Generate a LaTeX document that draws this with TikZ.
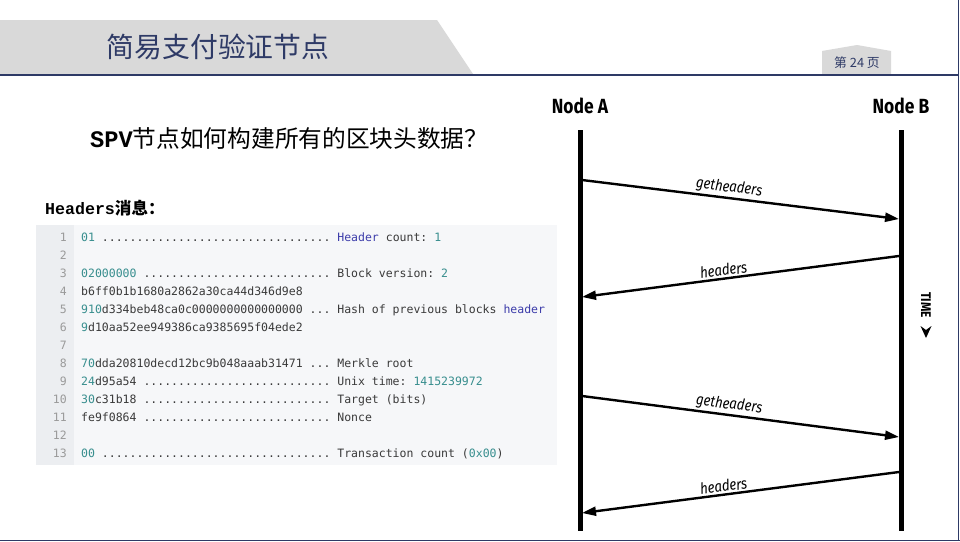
\documentclass[tikz,border=0pt]{standalone}
\usepackage{fontspec}
\usetikzlibrary{arrows.meta}
\setmonofont{DejaVu Sans Mono}
\newfontfamily\cjk{Noto Sans CJK SC}
\newfontfamily\cjkm{Liberation Mono}
\newfontfamily\condfont[FakeStretch=0.85]{Fira Sans}
\definecolor{navy}{RGB}{46,58,102}
\definecolor{bandgray}{RGB}{217,217,217}
\definecolor{codebg}{RGB}{246,247,249}
\definecolor{gutter}{RGB}{236,238,241}
\definecolor{teal}{RGB}{56,142,142}
\definecolor{kwblue}{RGB}{60,60,170}
\definecolor{codetxt}{RGB}{58,58,58}
\definecolor{lnum}{RGB}{154,154,154}
\newcommand{\tl}[1]{\textcolor{teal}{#1}}
\newcommand{\kw}[1]{\textcolor{kwblue}{#1}}
\begin{document}
\begin{tikzpicture}[x=1pt,y=-1pt,
  codeline/.style={anchor=base west,inner sep=0pt,font=\ttfamily\fontsize{11.5}{12}\selectfont,text=codetxt},
  lnumber/.style={anchor=base east,inner sep=0pt,font=\ttfamily\fontsize{11.5}{12}\selectfont,text=lnum},
  lifeline/.style={line width=5pt},
  msg/.style={line width=2.4pt,-{Triangle[length=14pt,width=9pt]}},
  msglabel/.style={font=\condfont\itshape\fontsize{15.5}{15}\selectfont,sloped,above,inner sep=1.5pt},
  nodehead/.style={font=\condfont\bfseries\fontsize{20.5}{20}\selectfont,inner sep=0pt}]
\useasboundingbox (0,0) rectangle (960,541);
\fill[white] (0,0) rectangle (960,541);
% header band
\fill[bandgray] (0,20) -- (437,20) -- (473,74) -- (0,74) -- cycle;
\node[font=\cjk\fontsize{27.8}{28}\selectfont,text=navy,inner sep=0pt] (title) at (218,47) {简易支付验证节点};
% page tab
\fill[bandgray] (822,51) -- (857,45) -- (891,51) -- (891,75) -- (822,75) -- cycle;
\node[font=\cjk\fontsize{12.8}{13}\selectfont,text=navy,inner sep=0pt] (page) at (857,63) {第 24 页};
% frame lines
\draw[navy,line width=1.5pt] (0,75) -- (958,75);
\draw[navy,line width=1.2pt] (958.5,0) -- (958.5,541);
\draw[navy,line width=1.5pt] (0,540.5) -- (960,540.5);
% question
\node[anchor=west,inner sep=0pt,font=\fontsize{23.7}{24}\selectfont] (q) at (90,138) {{\cjkm\bfseries SPV}{\cjk 节点如何构建所有的区块头数据？}};
\node[anchor=west,inner sep=0pt,font=\fontsize{16.6}{17}\selectfont] (hm) at (45,208) {{\cjkm\bfseries Headers}{\cjk\bfseries 消息：}};
% code block
\fill[codebg] (36,225) rectangle (557,465);
\fill[gutter] (36,225) rectangle (74,465);
\foreach \i in {1,...,13} {
  \node[lnumber] (ln\i) at (67,{241+18*(\i-1)}) {\i};
}
\node[codeline] (c1) at (81,241) {\tl{01} ................................. \kw{Header} count: \tl{1}};
\node[codeline] (c3) at (81,277) {\tl{02000000} ........................... Block version: \tl{2}};
\node[codeline] (c4) at (81,295) {b6ff0b1b1680a2862a30ca44d346d9e8};
\node[codeline] (c5) at (81,313) {\tl{910}d334beb48ca0c0000000000000000 ... Hash of previous blocks \kw{header}};
\node[codeline] (c6) at (81,331) {\tl{9}d10aa52ee949386ca9385695f04ede2};
\node[codeline] (c8) at (81,367) {\tl{70}dda20810decd12bc9b048aaab31471 ... Merkle root};
\node[codeline] (c9) at (81,385) {\tl{24}d95a54 ........................... Unix time: \tl{1415239972}};
\node[codeline] (c10) at (81,403) {\tl{30}c31b18 ........................... Target (bits)};
\node[codeline] (c11) at (81,421) {fe9f0864 ........................... Nonce};
\node[codeline] (c13) at (81,457) {\tl{00} ................................. Transaction count (\tl{0x00})};
% sequence diagram
\node[nodehead] (nA) at (580,106) {Node A};
\node[nodehead] (nB) at (901,106) {Node B};
\coordinate (aT) at (580,130); \coordinate (aB) at (580,531);
\coordinate (bT) at (901,130); \coordinate (bB) at (901,531);
\draw[lifeline] (aT) -- (aB);
\draw[lifeline] (bT) -- (bB);
\coordinate (a1) at (582,180); \coordinate (b1) at (899,219);
\coordinate (b2) at (899,256); \coordinate (a2) at (582,297);
\coordinate (a3) at (582,396); \coordinate (b3) at (899,437);
\coordinate (b4) at (899,472); \coordinate (a4) at (582,513);
\draw[msg] (a1) -- node[msglabel,pos=0.46] (l1) {getheaders} (b1);
\draw[msg] (b2) -- node[msglabel,pos=0.55] (l2) {headers} (a2);
\draw[msg] (a3) -- node[msglabel,pos=0.46] (l3) {getheaders} (b3);
\draw[msg] (b4) -- node[msglabel,pos=0.55] (l4) {headers} (a4);
% time label
\node[font=\condfont\bfseries\fontsize{14}{14}\selectfont,rotate=-90,inner sep=0pt] (time) at (926,305) {TIME};
\fill (920.5,326) -- (926,338) -- (931.5,326) -- (926,330) -- cycle;
\end{tikzpicture}
\end{document}
